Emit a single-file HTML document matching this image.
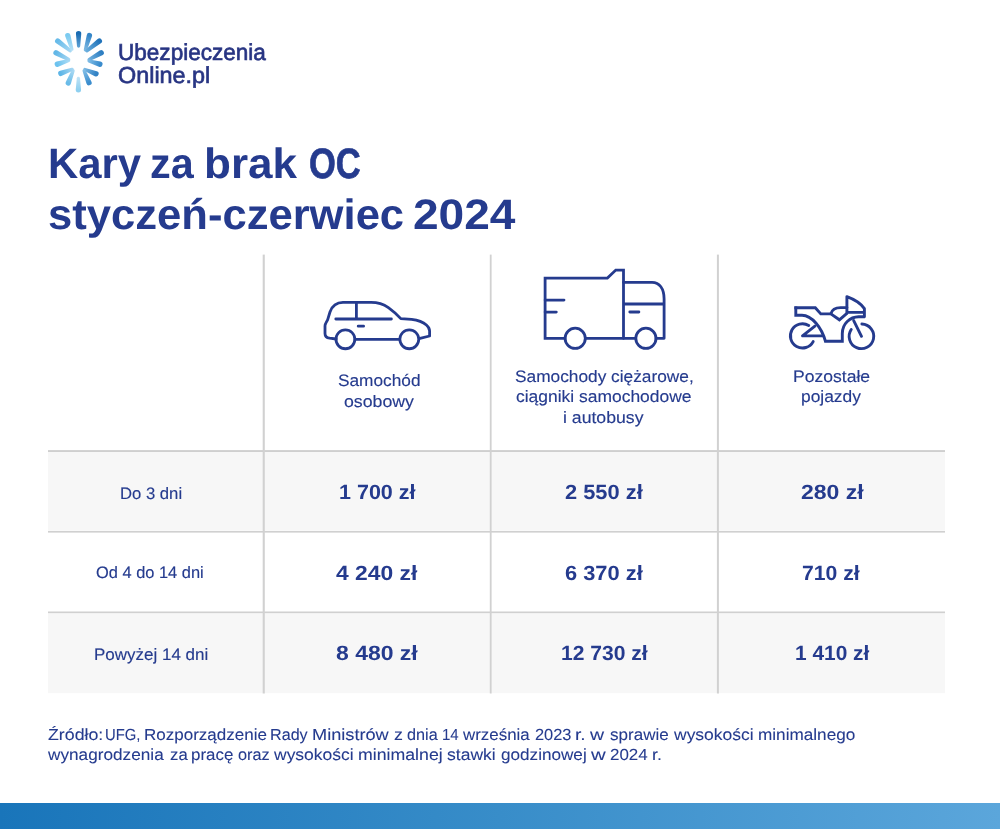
<!DOCTYPE html>
<html lang="pl">
<head>
<meta charset="utf-8">
<title>Kary za brak OC styczeń-czerwiec 2024</title>
<style>
html,body{margin:0;padding:0;background:#fff;}
body{width:1000px;height:829px;position:relative;overflow:hidden;font-family:"Liberation Sans",sans-serif;color:#253b8e;}
.t{position:absolute;white-space:nowrap;line-height:1;text-rendering:geometricPrecision;transform-origin:0 0;color:#253b8e;font-weight:400;}
.h1,.v{font-weight:700;}
.th,.rl{-webkit-text-stroke:0.15px #253b8e;}
.ft{-webkit-text-stroke:0.08px #253b8e;}
.logo{color:#283583;-webkit-text-stroke:0.65px #283583;}
h1,p{margin:0;padding:0;font-size:inherit;font-weight:inherit;}
#bar{position:absolute;left:0;top:803px;width:1000px;height:26px;background:linear-gradient(90deg,#1975ba 0%,#388dc9 50%,#5ba6db 100%);}
svg{position:absolute;left:0;top:0;}
</style>
</head>
<body>
<!-- icons + logo -->
<svg width="1000" height="829" viewBox="0 0 1000 829">
<!-- table grid -->
<g shape-rendering="auto">
<rect x="48" y="451" width="897" height="79.2" fill="#f7f7f7"/>
<rect x="48" y="613.4" width="897" height="79.8" fill="#f7f7f7"/>
<rect x="48" y="450.1" width="897" height="1.9" fill="#cfcfcf"/>
<rect x="48" y="530.9" width="897" height="1.7" fill="#d0d0d0"/>
<rect x="48" y="611.5" width="897" height="1.7" fill="#d0d0d0"/>
<rect x="262.7" y="254.6" width="2.1" height="438.9" fill="#d1d1d1"/>
<rect x="489.8" y="254.6" width="1.8" height="438.9" fill="#d1d1d1"/>
<rect x="716.9" y="254.6" width="2.0" height="438.9" fill="#d1d1d1"/>
</g>
<defs><linearGradient id="r0" gradientUnits="userSpaceOnUse" x1="78.6" y1="33.7" x2="78.6" y2="47.5"><stop offset="0" stop-color="#1b6cb2"/><stop offset="1" stop-color="#5fa3d6"/></linearGradient><linearGradient id="r1" gradientUnits="userSpaceOnUse" x1="89.4" y1="35.6" x2="85.3" y2="50.2"><stop offset="0" stop-color="#3586c8"/><stop offset="1" stop-color="#7fb9e2"/></linearGradient><linearGradient id="r2" gradientUnits="userSpaceOnUse" x1="99.4" y1="41.0" x2="86.6" y2="51.0"><stop offset="0" stop-color="#2274ba"/><stop offset="1" stop-color="#6aaedd"/></linearGradient><linearGradient id="r3" gradientUnits="userSpaceOnUse" x1="101.2" y1="52.8" x2="88.8" y2="59.8"><stop offset="0" stop-color="#2f7fc2"/><stop offset="1" stop-color="#74b3e0"/></linearGradient><linearGradient id="r4" gradientUnits="userSpaceOnUse" x1="99.9" y1="64.2" x2="88.8" y2="60.9"><stop offset="0" stop-color="#3a8ccd"/><stop offset="1" stop-color="#7dbbe5"/></linearGradient><linearGradient id="r5" gradientUnits="userSpaceOnUse" x1="96.0" y1="73.8" x2="84.6" y2="69.3"><stop offset="0" stop-color="#3383c5"/><stop offset="1" stop-color="#79b6e1"/></linearGradient><linearGradient id="r6" gradientUnits="userSpaceOnUse" x1="89.0" y1="82.6" x2="84.0" y2="70.6"><stop offset="0" stop-color="#3b8dce"/><stop offset="1" stop-color="#80bde6"/></linearGradient><linearGradient id="r7" gradientUnits="userSpaceOnUse" x1="78.4" y1="89.8" x2="78.4" y2="77.0"><stop offset="0" stop-color="#8fd0f0"/><stop offset="1" stop-color="#bfe3f6"/></linearGradient><linearGradient id="r8" gradientUnits="userSpaceOnUse" x1="68.3" y1="83.0" x2="73.2" y2="70.6"><stop offset="0" stop-color="#69bbe8"/><stop offset="1" stop-color="#a9d9f3"/></linearGradient><linearGradient id="r9" gradientUnits="userSpaceOnUse" x1="60.8" y1="73.4" x2="72.4" y2="69.3"><stop offset="0" stop-color="#5fb6e7"/><stop offset="1" stop-color="#a3d5f2"/></linearGradient><linearGradient id="r10" gradientUnits="userSpaceOnUse" x1="57.3" y1="64.2" x2="68.9" y2="60.5"><stop offset="0" stop-color="#6cc2ee"/><stop offset="1" stop-color="#aadcf6"/></linearGradient><linearGradient id="r11" gradientUnits="userSpaceOnUse" x1="56.0" y1="52.8" x2="68.9" y2="59.6"><stop offset="0" stop-color="#62b7e7"/><stop offset="1" stop-color="#a4d6f2"/></linearGradient><linearGradient id="r12" gradientUnits="userSpaceOnUse" x1="57.7" y1="41.0" x2="70.6" y2="51.0"><stop offset="0" stop-color="#68bbe9"/><stop offset="1" stop-color="#a7d8f3"/></linearGradient><linearGradient id="r13" gradientUnits="userSpaceOnUse" x1="67.8" y1="35.6" x2="72.0" y2="49.6"><stop offset="0" stop-color="#7ccbf0"/><stop offset="1" stop-color="#b4e0f7"/></linearGradient></defs>
<g><path d="M75.96 33.92 L77.01 46.24 A1.6 1.6 0 0 0 80.19 46.24 L81.24 33.92 A2.65 2.65 0 1 0 75.96 33.92 Z" fill="url(#r0)"/>
<path d="M86.80 35.07 L83.81 49.59 A1.6 1.6 0 0 0 86.89 50.45 L91.89 36.49 A2.65 2.65 0 1 0 86.80 35.07 Z" fill="url(#r1)"/>
<path d="M97.63 39.02 L85.77 49.62 A1.6 1.6 0 0 0 87.74 52.14 L100.89 43.19 A2.65 2.65 0 1 0 97.63 39.02 Z" fill="url(#r2)"/>
<path d="M99.73 50.60 L88.17 58.32 A1.6 1.6 0 0 0 89.74 61.10 L102.33 55.20 A2.65 2.65 0 1 0 99.73 50.60 Z" fill="url(#r3)"/>
<path d="M100.42 61.60 L89.40 59.42 A1.6 1.6 0 0 0 88.49 62.47 L98.91 66.66 A2.65 2.65 0 1 0 100.42 61.60 Z" fill="url(#r4)"/>
<path d="M96.75 71.26 L85.33 67.88 A1.6 1.6 0 0 0 84.16 70.84 L94.81 76.17 A2.65 2.65 0 1 0 96.75 71.26 Z" fill="url(#r5)"/>
<path d="M91.35 81.38 L85.54 70.14 A1.6 1.6 0 0 0 82.59 71.37 L86.48 83.41 A2.65 2.65 0 1 0 91.35 81.38 Z" fill="url(#r6)"/>
<path d="M81.04 89.56 L79.99 78.25 A1.6 1.6 0 0 0 76.81 78.25 L75.76 89.56 A2.65 2.65 0 1 0 81.04 89.56 Z" fill="url(#r7)"/>
<path d="M70.84 83.77 L74.62 71.35 A1.6 1.6 0 0 0 71.65 70.17 L65.92 81.83 A2.65 2.65 0 1 0 70.84 83.77 Z" fill="url(#r8)"/>
<path d="M61.90 75.81 L72.78 70.86 A1.6 1.6 0 0 0 71.72 67.85 L60.14 70.83 A2.65 2.65 0 1 0 61.90 75.81 Z" fill="url(#r9)"/>
<path d="M58.33 66.64 L69.23 62.07 A1.6 1.6 0 0 0 68.26 59.03 L56.72 61.61 A2.65 2.65 0 1 0 58.33 66.64 Z" fill="url(#r10)"/>
<path d="M54.94 55.23 L67.99 60.93 A1.6 1.6 0 0 0 69.48 58.10 L57.40 50.55 A2.65 2.65 0 1 0 54.94 55.23 Z" fill="url(#r11)"/>
<path d="M56.22 43.20 L69.47 52.14 A1.6 1.6 0 0 0 71.42 49.62 L59.46 39.02 A2.65 2.65 0 1 0 56.22 43.20 Z" fill="url(#r12)"/>
<path d="M65.32 36.55 L70.42 49.88 A1.6 1.6 0 0 0 73.48 48.97 L70.39 35.03 A2.65 2.65 0 1 0 65.32 36.55 Z" fill="url(#r13)"/></g>
<g fill="none" stroke="#253b8e" stroke-width="2.8" stroke-linecap="round" stroke-linejoin="round">
<!-- car -->
<path d="M336.2 339 L329.6 338.2 Q325 337.5 325 333.4 V326 Q325 324.6 325.8 323.2 L327.6 319.8 L330 312 Q333.4 302.4 343 302.4 H371 Q381 302.4 388.4 307.6 Q395 312.4 400.8 318.6 L411.6 319.4 Q421.4 320.6 426.4 325 Q429.6 327.8 429.6 331 V336 L420 338.4"/>
<path d="M355 339.4 H399.6"/>
<circle cx="345.4" cy="339.3" r="9.45"/>
<circle cx="409.3" cy="339.3" r="9.45"/>
<path d="M335.8 319 H391.4 M356.4 303.4 V318.6 M358.2 326.2 H363.6"/>
<!-- truck -->
<g stroke-width="2.8"><path d="M565 338.3 H545.1 V278.1 H607.4 L615.8 270.1 H623.5 V338.3" stroke-linejoin="miter"/>
<path d="M585.4 338.3 H635.8 M656 338.3 H664.1 V299 C664.1 288.5 659.5 282.3 652 282.3 H623.5"/>
<path d="M623.5 304 H664.1" stroke-width="3.1" stroke-linecap="butt"/>
<path d="M629.8 312 H638.9 M545.1 300.1 H564 M545.1 312.1 H556.3"/>
<circle cx="575.2" cy="338.3" r="10.1"/>
<circle cx="645.9" cy="338.3" r="10.1"/></g>
<!-- motorcycle -->
<g stroke-width="2.9">
<path d="M794.35 307.8 H815.3 L820.8 313.9 H830.9 L839.4 319.8 L846.6 313.6" stroke-linejoin="miter" stroke-linecap="butt"/>
<path d="M864.4 316.7 H858.7 C850 316.9 842.3 323.5 842.3 333.5 V341.2 H825.4 C821.8 328 812 315.2 802 315.2 H795.8 V306.4" stroke-linejoin="miter" stroke-linecap="butt"/>
<path d="M830.9 313.7 C832 309.8 835.5 307.6 840.6 307.6 H846.9"/>
<path d="M846.9 313.6 V296.6 C854 299.2 861.5 304.3 864.4 308.6 V316.7 M846.9 312.4 H864.4"/>
<path d="M853.7 320.6 L861.5 336.3"/>
<path d="M814.9 326.1 L802.5 335.9 H822.8"/>
<path d="M808.73 325.53 A12.1 12.1 0 1 0 813.18 341.58"/>
<path d="M861.88 324.01 A12.3 12.3 0 1 1 851.22 329.47"/>
</g>
</g>
</svg>

<div class="brand">
<span class="t logo" style="left:117.65px;top:41.00px;font-size:23px;transform:scaleX(0.9803)">Ubezpieczenia</span>
<span class="t logo" style="left:117.65px;top:64.00px;font-size:23px;transform:scaleX(1.0167)">Online.pl</span>
</div>
<h1>
<span class="t h1" style="left:47.85px;top:143.00px;font-size:42.6px;transform:scaleX(0.9829)">Kary</span>
<span class="t h1" style="left:150.45px;top:143.00px;font-size:42.6px;transform:scaleX(0.9711)">za</span>
<span class="t h1" style="left:204.25px;top:143.00px;font-size:42.6px;transform:scaleX(1.0346)">brak</span>
<span class="t h1" style="left:308.65px;top:143.00px;font-size:42.6px;-webkit-text-stroke:0.7px #253b8e;transform:scaleX(0.8092)">OC</span>
<span class="t h1" style="left:47.65px;top:194.00px;font-size:42.6px;transform:scaleX(1.0232)">styczeń-czerwiec</span>
<span class="t h1" style="left:413.45px;top:194.00px;font-size:42.6px;transform:scaleX(1.0816)">2024</span>
</h1>
<div class="thead">
<span class="t th" style="left:337.85px;top:373.00px;font-size:16.6px;transform:scaleX(1.0398)">Samochód</span>
<span class="t th" style="left:343.65px;top:394.00px;font-size:16.6px;transform:scaleX(1.0672)">osobowy</span>
<span class="t th" style="left:514.65px;top:369.00px;font-size:16.6px;transform:scaleX(1.0416)">Samochody ciężarowe,</span>
<span class="t th" style="left:515.85px;top:389.00px;font-size:16.6px;transform:scaleX(1.0512)">ciągniki samochodowe</span>
<span class="t th" style="left:562.85px;top:410.00px;font-size:16.6px;transform:scaleX(1.0640)">i autobusy</span>
<span class="t th" style="left:792.85px;top:369.00px;font-size:16.6px;transform:scaleX(1.0580)">Pozostałe</span>
<span class="t th" style="left:801.05px;top:389.00px;font-size:16.6px;transform:scaleX(1.0471)">pojazdy</span>
</div>
<div class="rowlabels">
<span class="t rl" style="left:119.65px;top:486.00px;font-size:16.6px;transform:scaleX(1.0047)">Do 3 dni</span>
<span class="t rl" style="left:96.25px;top:565.00px;font-size:16.6px;transform:scaleX(0.9892)">Od 4 do 14 dni</span>
<span class="t rl" style="left:94.45px;top:647.00px;font-size:16.6px;transform:scaleX(1.0240)">Powyżej 14 dni</span>
</div>
<div class="values">
<span class="t v" style="left:338.85px;top:483.00px;font-size:20.6px;transform:scaleX(1.0439)">1 700 zł</span>
<span class="t v" style="left:335.65px;top:564.00px;font-size:20.6px;transform:scaleX(1.1094)">4 240 zł</span>
<span class="t v" style="left:336.05px;top:644.00px;font-size:20.6px;transform:scaleX(1.1149)">8 480 zł</span>
<span class="t v" style="left:564.65px;top:483.00px;font-size:20.6px;transform:scaleX(1.0603)">2 550 zł</span>
<span class="t v" style="left:564.65px;top:564.00px;font-size:20.6px;transform:scaleX(1.0603)">6 370 zł</span>
<span class="t v" style="left:561.05px;top:644.00px;font-size:20.6px;transform:scaleX(1.0232)">12 730 zł</span>
<span class="t v" style="left:800.65px;top:483.00px;font-size:20.6px;transform:scaleX(1.1175)">280 zł</span>
<span class="t v" style="left:801.65px;top:564.00px;font-size:20.6px;transform:scaleX(1.0283)">710 zł</span>
<span class="t v" style="left:794.65px;top:644.00px;font-size:20.6px;transform:scaleX(1.0139)">1 410 zł</span>
</div>
<p class="source">
<span class="t ft" style="left:47.85px;top:727.00px;font-size:16.1px;transform:scaleX(1.1039)">Źródło:</span>
<span class="t ft" style="left:104.85px;top:727.00px;font-size:16.1px;transform:scaleX(0.9232)">UFG,</span>
<span class="t ft" style="left:143.65px;top:727.00px;font-size:16.1px;transform:scaleX(1.0566)">Rozporządzenie</span>
<span class="t ft" style="left:269.65px;top:727.00px;font-size:16.1px;transform:scaleX(1.0032)">Rady</span>
<span class="t ft" style="left:311.65px;top:727.00px;font-size:16.1px;transform:scaleX(1.1285)">Ministrów</span>
<span class="t ft" style="left:393.65px;top:727.00px;font-size:16.1px;transform:scaleX(1.1060)">z</span>
<span class="t ft" style="left:406.65px;top:727.00px;font-size:16.1px;transform:scaleX(1.0086)">dnia</span>
<span class="t ft" style="left:441.65px;top:727.00px;font-size:16.1px;transform:scaleX(0.9326)">14</span>
<span class="t ft" style="left:462.85px;top:727.00px;font-size:16.1px;transform:scaleX(1.0501)">września</span>
<span class="t ft" style="left:534.65px;top:727.00px;font-size:16.1px;transform:scaleX(1.0192)">2023</span>
<span class="t ft" style="left:575.45px;top:727.00px;font-size:16.1px;transform:scaleX(1.1951)">r.</span>
<span class="t ft" style="left:590.45px;top:727.00px;font-size:16.1px;transform:scaleX(1.2129)">w</span>
<span class="t ft" style="left:609.65px;top:727.00px;font-size:16.1px;transform:scaleX(1.0583)">sprawie</span>
<span class="t ft" style="left:673.65px;top:727.00px;font-size:16.1px;transform:scaleX(1.0867)">wysokości</span>
<span class="t ft" style="left:757.65px;top:727.00px;font-size:16.1px;transform:scaleX(1.0663)">minimalnego</span>
<span class="t ft" style="left:47.85px;top:747.00px;font-size:16.1px;transform:scaleX(1.0687)">wynagrodzenia</span>
<span class="t ft" style="left:169.65px;top:747.00px;font-size:16.1px;transform:scaleX(1.0412)">za</span>
<span class="t ft" style="left:191.45px;top:747.00px;font-size:16.1px;transform:scaleX(1.0505)">pracę</span>
<span class="t ft" style="left:237.65px;top:747.00px;font-size:16.1px;transform:scaleX(1.0124)">oraz</span>
<span class="t ft" style="left:274.45px;top:747.00px;font-size:16.1px;transform:scaleX(1.0867)">wysokości</span>
<span class="t ft" style="left:357.65px;top:747.00px;font-size:16.1px;transform:scaleX(1.1011)">minimalnej</span>
<span class="t ft" style="left:446.65px;top:747.00px;font-size:16.1px;transform:scaleX(1.0890)">stawki</span>
<span class="t ft" style="left:500.65px;top:747.00px;font-size:16.1px;transform:scaleX(1.0642)">godzinowej</span>
<span class="t ft" style="left:590.65px;top:747.00px;font-size:16.1px;transform:scaleX(1.2645)">w</span>
<span class="t ft" style="left:609.65px;top:747.00px;font-size:16.1px;transform:scaleX(1.0527)">2024</span>
<span class="t ft" style="left:651.65px;top:747.00px;font-size:16.1px;transform:scaleX(1.1058)">r.</span>
</p>

<div id="bar"></div>
</body>
</html>
